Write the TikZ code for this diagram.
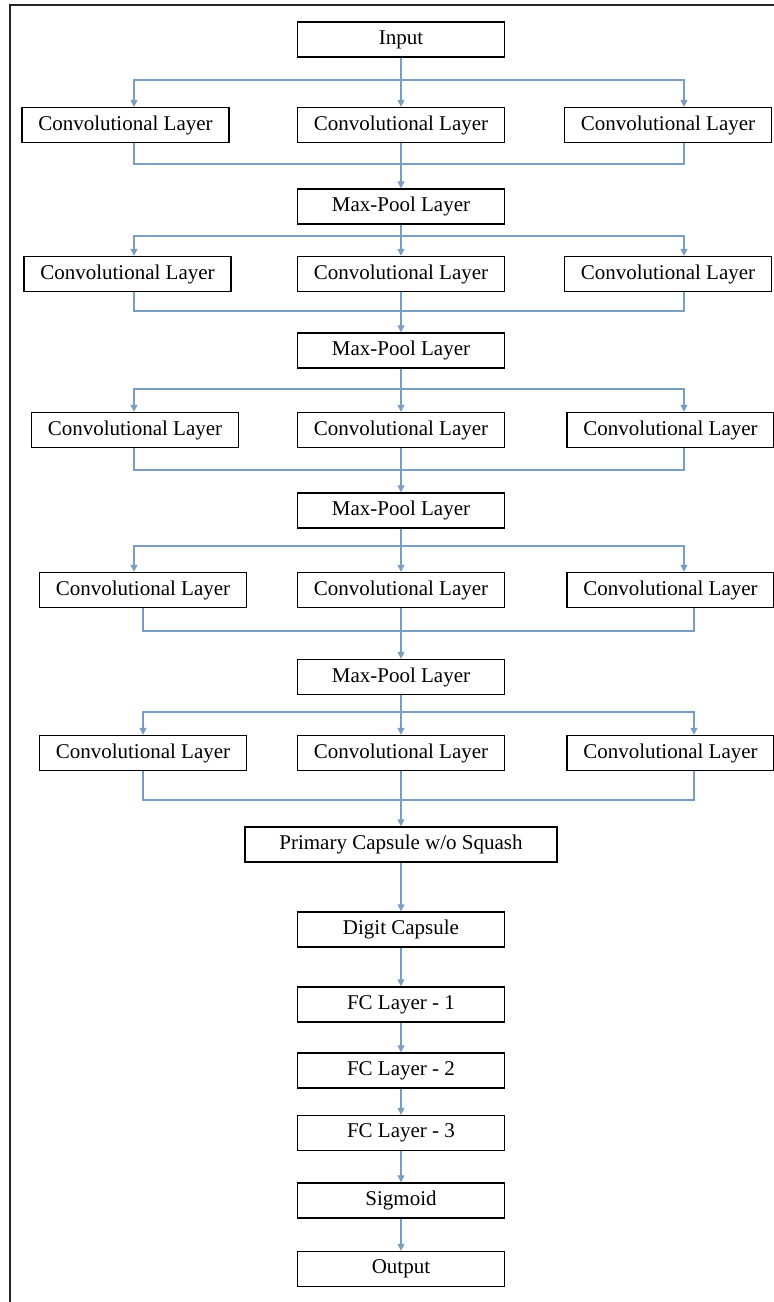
\documentclass[tikz,border=0pt]{standalone}
\usepackage{fontspec}
\setmainfont{Liberation Serif}
\usetikzlibrary{arrows.meta}
\definecolor{conncol}{RGB}{122,157,194}
\begin{document}
\begin{tikzpicture}[x=1pt,y=-1pt,
  box/.style={draw=black,line width=1.4pt,minimum width=207pt,minimum height=35pt,inner sep=0pt,font=\fontsize{21}{25}\selectfont},
  link/.style={draw=conncol,line width=1.3pt},
  arr/.style={link,-{Triangle[width=7pt,length=7pt]}}]
\useasboundingbox (0,0) rectangle (774,1302);
\draw[line width=2pt,black!85] (9.5,1302) -- (9.5,5) -- (774,5);

% centre column
\node[box] (in) at (401,39.5) {Input};
\node[box] (c1) at (401,125) {Convolutional Layer};
\node[box] (p1) at (401,206.5) {Max-Pool Layer};
\node[box] (c2) at (401,274) {Convolutional Layer};
\node[box] (p2) at (401,350.5) {Max-Pool Layer};
\node[box] (c3) at (401,430) {Convolutional Layer};
\node[box] (p3) at (401,510.5) {Max-Pool Layer};
\node[box] (c4) at (401,590) {Convolutional Layer};
\node[box] (p4) at (401,677) {Max-Pool Layer};
\node[box] (c5) at (401,753) {Convolutional Layer};
\node[box,minimum width=312pt] (prim) at (401,844.5) {Primary Capsule w/o Squash};
\node[box] (digit) at (401,929.5) {Digit Capsule};
\node[box] (fc1) at (401,1004.5) {FC Layer - 1};
\node[box] (fc2) at (401,1070.5) {FC Layer - 2};
\node[box] (fc3) at (401,1133) {FC Layer - 3};
\node[box] (sig) at (401,1200.5) {Sigmoid};
\node[box] (out) at (401,1269) {Output};

% side columns
\node[box] (l1) at (125.5,125) {Convolutional Layer};
\node[box] (r1) at (668,125) {Convolutional Layer};
\node[box] (l2) at (127.5,274) {Convolutional Layer};
\node[box] (r2) at (668,274) {Convolutional Layer};
\node[box] (l3) at (135,430) {Convolutional Layer};
\node[box] (r3) at (670.5,430) {Convolutional Layer};
\node[box] (l4) at (143,590) {Convolutional Layer};
\node[box] (r4) at (670.5,590) {Convolutional Layer};
\node[box] (l5) at (143,753) {Convolutional Layer};
\node[box] (r5) at (670.5,753) {Convolutional Layer};

% branch / merge points
\coordinate (b1) at (401,80);  \coordinate (m1) at (401,164);
\coordinate (b2) at (401,236); \coordinate (m2) at (401,311);
\coordinate (b3) at (401,389); \coordinate (m3) at (401,470);
\coordinate (b4) at (401,546); \coordinate (m4) at (401,631);
\coordinate (b5) at (401,712); \coordinate (m5) at (401,800);
\coordinate (xl) at (134,0);  \coordinate (xL) at (143,0);
\coordinate (xr) at (684,0);  \coordinate (xR) at (694,0);

\foreach \r/\up/\down/\la/\lm/\ra/\rm in
  {1/in/p1/xl/xl/xr/xr, 2/p1/p2/xl/xl/xr/xr, 3/p2/p3/xl/xl/xr/xr,
   4/p3/p4/xl/xL/xr/xR, 5/p4/prim/xL/xL/xR/xR}{
  \draw[arr] (\up.south) -- (c\r.north);
  \draw[arr] (b\r) -| (l\r.north -| \la);
  \draw[arr] (b\r) -| (r\r.north -| \ra);
  \draw[link] (l\r.south -| \lm) |- (m\r);
  \draw[link] (r\r.south -| \rm) |- (m\r);
  \draw[arr] (c\r.south) -- (\down.north);
}

\draw[arr] (prim.south) -- (digit.north);
\draw[arr] (digit.south) -- (fc1.north);
\draw[arr] (fc1.south) -- (fc2.north);
\draw[arr] (fc2.south) -- (fc3.north);
\draw[arr] (fc3.south) -- (sig.north);
\draw[arr] (sig.south) -- (out.north);
\end{tikzpicture}
\end{document}
